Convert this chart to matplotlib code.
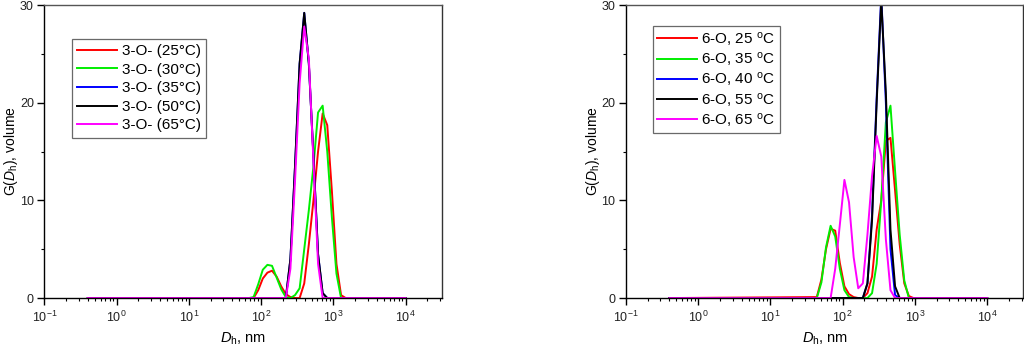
import matplotlib
matplotlib.use("Agg")
import matplotlib.pyplot as plt
from matplotlib.ticker import LogLocator, MultipleLocator, NullFormatter

plt.rcParams['font.family'] = ['Liberation Sans', 'DejaVu Sans']
plt.rcParams['mathtext.fontset'] = 'custom'
plt.rcParams['mathtext.rm'] = 'Liberation Sans'
plt.rcParams['mathtext.it'] = 'Liberation Sans:italic'

# Hydrodynamic diameter classes (nm); the distribution is zero outside the listed peaks
size_nm = [0.4, 43.82, 50.75, 58.77, 68.06, 78.82, 91.28, 105.7, 122.4, 141.8,
           164.2, 190.1, 220.2, 255.0, 295.3, 342.0, 396.1, 458.7, 531.2, 615.1,
           712.4, 825.0, 955.4, 1106, 1281, 1484, 10000]

# 3-O- derivative, volume distributions
g3_25 = [0, 0, 0, 0, 0, 0, 0.8, 2.0, 2.6, 2.8, 2.2, 1.2, 0.4, 0.1, 0, 0,
         1.5, 5.5, 10.0, 15.0, 18.9, 17.7, 11.0, 3.5, 0.3, 0, 0]
g3_30 = [0, 0, 0, 0, 0, 0.1, 1.4, 2.9, 3.4, 3.3, 2.1, 0.9, 0.1, 0, 0.3, 1.0,
         5.0, 9.0, 13.5, 19.0, 19.7, 15.0, 8.3, 2.5, 0, 0, 0]
g3_35 = [0, 0, 0, 0, 0, 0, 0, 0, 0, 0, 0, 0, 0, 4.0, 13.5, 24.0,
         29.2, 24.0, 14.5, 4.5, 0.5, 0, 0, 0, 0, 0, 0]
g3_50 = [0, 0, 0, 0, 0, 0, 0, 0, 0, 0, 0, 0, 0, 4.0, 13.5, 24.0,
         29.2, 24.0, 14.5, 4.5, 0.5, 0, 0, 0, 0, 0, 0]
g3_65 = [0, 0, 0, 0, 0, 0, 0, 0, 0, 0, 0, 0, 0, 3.0, 12.0, 22.0,
         27.8, 24.5, 14.0, 3.5, 0, 0, 0, 0, 0, 0, 0]

# 6-O- derivative, volume distributions
g6_25 = [0, 0.1, 1.9, 5.0, 7.1, 6.9, 3.6, 1.2, 0.4, 0.1, 0, 0, 0.5, 2.2, 7.0, 10.0,
         16.1, 16.4, 11.0, 5.5, 1.5, 0.2, 0, 0, 0, 0, 0]
g6_35 = [0, 0, 1.6, 5.2, 7.4, 6.3, 3.0, 0.8, 0.1, 0, 0, 0, 0, 0.5, 3.5, 10.0,
         18.0, 19.7, 13.0, 6.5, 1.8, 0, 0, 0, 0, 0, 0]
g6_40 = [0, 0, 0, 0, 0, 0, 0, 0, 0, 0, 0, 0, 1.5, 8.5, 20.5, 31.0,
         20.0, 5.0, 0.3, 0, 0, 0, 0, 0, 0, 0, 0]
g6_55 = [0, 0, 0, 0, 0, 0, 0, 0, 0, 0, 0, 0, 1.5, 8.0, 20.0, 30.5,
         21.0, 7.0, 1.2, 0, 0, 0, 0, 0, 0, 0, 0]
g6_65 = [0, 0, 0, 0, 0, 3.0, 7.5, 12.1, 9.8, 4.2, 1.0, 1.5, 6.5, 12.5, 16.6, 14.5,
         6.0, 0.8, 0, 0, 0, 0, 0, 0, 0, 0, 0]

labels_3 = ['3-O- (25°C)', '3-O- (30°C)', '3-O- (35°C)', '3-O- (50°C)', '3-O- (65°C)']
deg = r'$^{\mathregular{o}}$C'
labels_6 = ['6-O, 25 ' + deg, '6-O, 35 ' + deg, '6-O, 40 ' + deg,
            '6-O, 55 ' + deg, '6-O, 65 ' + deg]
colors = ['#ff0000', '#00ee00', '#0000ff', '#000000', '#ff00ff']

fig = plt.figure(figsize=(10.24, 3.49), dpi=100)
ax1 = fig.add_axes([0.0433, 0.146, 0.388, 0.8395])
ax2 = fig.add_axes([0.6113, 0.146, 0.388, 0.8395])

tick_color = '#222222'


def style_axis(ax):
    ax.set_xscale('log')
    ax.set_xlim(0.1, 10 ** 4.5)
    ax.set_ylim(0, 30)
    ax.xaxis.set_major_locator(LogLocator(base=10, numticks=10))
    ax.xaxis.set_minor_locator(LogLocator(base=10, subs=range(2, 10), numticks=20))
    ax.xaxis.set_minor_formatter(NullFormatter())
    ax.yaxis.set_major_locator(MultipleLocator(10))
    ax.yaxis.set_minor_locator(MultipleLocator(5))
    ax.tick_params(which='major', direction='out', length=5, width=1,
                   labelsize=9, labelcolor=tick_color, top=False, right=False)
    ax.tick_params(which='minor', direction='out', length=2.5, width=0.8,
                   top=False, right=False)
    ax.tick_params(axis='y', which='major', pad=2.5)
    for sp in ax.spines.values():
        sp.set_linewidth(1.0)
    ax.spines['top'].set_color('#555555')
    ax.spines['right'].set_color('#333333')
    ax.set_xlabel(r'$\mathit{D}_{\mathregular{h}}$, nm', fontsize=10.5, labelpad=4)
    ax.set_ylabel(r'G($\mathit{D}_{\mathregular{h}}$), volume', fontsize=10, labelpad=0)


series_3 = [g3_25, g3_30, g3_35, g3_50, g3_65]
series_6 = [g6_25, g6_35, g6_40, g6_55, g6_65]

for vals, lab, col in zip(series_3, labels_3, colors):
    ax1.plot(size_nm, vals, color=col, lw=1.4, label=lab)
for vals, lab, col in zip(series_6, labels_6, colors):
    ax2.plot(size_nm, vals, color=col, lw=1.4, label=lab)

for ax in (ax1, ax2):
    style_axis(ax)

leg1 = ax1.legend(loc='upper left', bbox_to_anchor=(0.07, 0.885), fontsize=11,
                  frameon=True, fancybox=False, edgecolor='#444444',
                  handlelength=2.6, handletextpad=0.3, labelspacing=0.3,
                  borderpad=0.35, borderaxespad=0)
leg1.get_frame().set_linewidth(0.9)

leg2 = ax2.legend(loc='upper left', bbox_to_anchor=(0.067, 0.93), fontsize=11,
                  frameon=True, fancybox=False, edgecolor='#444444',
                  handlelength=2.6, handletextpad=0.3, labelspacing=0.14,
                  borderpad=0.3, borderaxespad=0)
leg2.get_frame().set_linewidth(0.9)

fig.savefig('out.png', dpi=100)
